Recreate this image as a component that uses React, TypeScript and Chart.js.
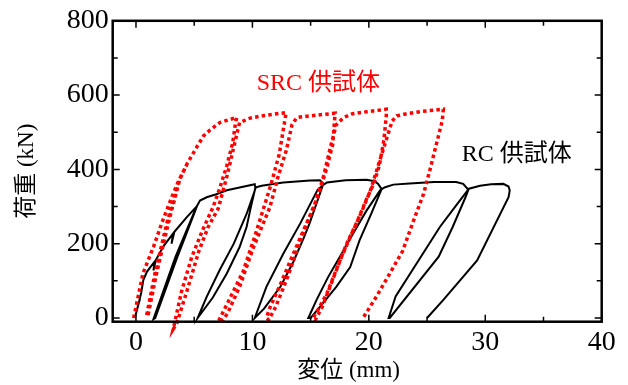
import React, { useEffect, useRef } from "react";
import { Chart, registerables } from "chart.js";

Chart.register(...registerables);

// ---- data ----
const srcDisp = [
  -0.2, 0.6, 1.5, 2.2, 3.07, 3.7, 4.35,
  3.64, 2.64, 1.63, 0.9,
  1.05, 1.8, 2.8, 3.75, 4.4,
  5.2, 5.8, 6.36, 7.2, 8.65,
  8.55, 8.3, 7.8, 7.2, 6.64, 5.7, 4.8, 3.9, 3.2,
  3.5, 4.4, 5.4, 6.2, 7.07, 7.8, 8.4, 8.9,
  9.8, 11.2, 12.9,
  12.8, 12.3, 11.6, 10.9, 10.1, 9.2, 8.1, 7.07,
  7.5, 7.9, 8.9, 10.1, 11.5, 12.2, 12.9, 13.4, 13.8,
  14.1, 15.5, 17.1,
  16.9, 16.4, 15.7, 15.0, 14.1, 13.2, 12.4, 11.5, 11.2,
  11.4, 12.0, 12.9, 13.7, 14.5, 15.3, 16.1, 16.7, 17.2, 17.8,
  18.6, 19.8, 21.5,
  21.5, 21.3, 20.9, 20.4, 19.8, 19.0, 18.1, 17.2, 16.4, 15.6, 15.2,
  15.4, 16.0, 16.8, 17.6, 18.5, 19.3, 20.1, 20.8, 21.5, 22.0, 22.4,
  23.3, 24.5, 26.4,
  26.3, 25.8, 25.3, 24.7, 23.7, 22.9, 21.8, 20.7, 19.5,
];
const srcLoad = [
  0, 120, 191, 254, 325, 372, 412,
  368, 254, 120, 5,
  10, 125, 258, 372, 416,
  459, 490, 506, 526, 540,
  525, 470, 410, 350, 300, 235, 165, 70, -30,
  -15, 75, 180, 245, 295, 380, 460, 526,
  538, 546, 553,
  535, 440, 360, 289, 210, 125, 55, -10,
  -5, 15, 84, 191, 298, 380, 450, 520, 539,
  541, 546, 551,
  468, 405, 334, 280, 215, 150, 90, 28, 0,
  -5, 30, 100, 170, 240, 300, 380, 460, 520, 539,
  550, 555, 562,
  545, 480, 410, 360, 320, 260, 200, 130, 66, 20, 0,
  -5, 30, 95, 160, 225, 280, 340, 410, 480, 530, 544,
  550, 556, 562,
  530, 468, 405, 334, 250, 180, 120, 60, 0,
];

const rcDisp = [
  -0.1, 0.2, 0.1, 0.35, 0.25, 0.45, 0.63, 0.95, 1.6, 1.5, 1.7, 2.4, 3.2, 3.05, 3.3, 4.35, 5.2,
  3.4, 1.5, 1.65, 3.5, 5.25,
  5.5, 6.07, 6.9, 7.8, 8.4, 10.2,
  10.25, 9.8, 9.5, 8.9, 7.8, 6.6, 5.3,
  6.07, 7.2, 8.4, 9.5, 10.3,
  10.8, 12.65, 14.95, 15.8, 16.1,
  14.9, 14.4, 13.5, 12.4, 11.0, 10.2,
  11.2, 12.65, 14.1, 15.6, 16.0,
  16.4, 18.0, 19.8, 20.5, 20.8, 21.1,
  20.2, 19.2, 18.4, 17.2, 15.8, 15.0,
  14.8, 15.5, 16.5, 17.5, 18.7, 19.8, 21.0, 21.4,
  22.1, 23.5, 25.6, 27.5, 28.1, 28.55,
  28.3, 27.2, 26.0, 21.8,
  21.7, 22.3, 26.1, 27.6, 28.6,
  29.55, 30.5, 31.55, 32.0, 32.1, 32.0,
  29.3, 26.4, 25.0,
];
const rcLoad = [
  0, 35, 25, 52, 42, 68, 102, 125, 152, 128, 156, 195, 228, 200, 232, 271, 300,
  165, -3, 0, 160, 302,
  316, 325, 333, 344, 348, 360,
  350, 289, 245, 191, 120, 55, 0,
  57, 130, 200, 280, 352,
  356, 365, 370, 371, 362,
  254, 215, 150, 84, 25, 0,
  84, 173, 254, 345, 356,
  365, 371, 372, 368, 361, 347,
  280, 209, 137, 84, 30, 0,
  0, 48, 110, 164, 230, 289, 345, 352,
  359, 362, 366, 366, 361, 345,
  325, 245, 165, 0,
  0, 58, 245, 307, 348,
  356, 360, 361, 354, 343, 325,
  155, 49, 0,
];

const seriesNames = ["SRC 供試体", "RC 供試体"];
const xTickValues = [0, 10, 20, 30, 40];
const xMinorValues = [5, 15, 25, 35];
const yTickValues = [0, 200, 400, 600, 800];
const yMinorValues = [100, 300, 500, 700];
const xTitle = "変位 (mm)";
const yTitle = "荷重 (kN)";

// ---- styles / placement ----
const FAMILY = '"Liberation Serif", "Times New Roman", "Noto Sans CJK JP", serif';
const seriesColors = ["#ff0000", "#000000"];
const labelAnchors = [
  { x: 10.37, y: 615 },
  { x: 27.98, y: 423 },
];

const frameTicksPlugin = {
  id: "frameTicks",
  afterDatasetsDraw(chart: any) {
    const { ctx, chartArea: a } = chart;
    const xs = chart.scales.x;
    const ys = chart.scales.y;
    ctx.save();
    ctx.strokeStyle = "#000";
    ctx.lineWidth = 1.5;
    ctx.beginPath();
    [...xTickValues, ...xMinorValues].forEach((v) => {
      const p = xs.getPixelForValue(v);
      const len = xTickValues.includes(v) ? 7 : 5;
      ctx.moveTo(p, a.bottom);
      ctx.lineTo(p, a.bottom - len);
      ctx.moveTo(p, a.top);
      ctx.lineTo(p, a.top + len);
    });
    [...yTickValues, ...yMinorValues].forEach((v) => {
      const p = ys.getPixelForValue(v);
      const len = yTickValues.includes(v) ? 7 : 5;
      ctx.moveTo(a.left, p);
      ctx.lineTo(a.left + len, p);
      ctx.moveTo(a.right, p);
      ctx.lineTo(a.right - len, p);
    });
    ctx.stroke();
    ctx.lineWidth = 2.5;
    ctx.strokeRect(a.left, a.top, a.right - a.left, a.bottom - a.top);

    ctx.font = `24px ${FAMILY}`;
    ctx.textAlign = "left";
    ctx.textBaseline = "alphabetic";
    seriesNames.forEach((t, i) => {
      ctx.fillStyle = seriesColors[i];
      ctx.fillText(
        t,
        xs.getPixelForValue(labelAnchors[i].x),
        ys.getPixelForValue(labelAnchors[i].y)
      );
    });
    ctx.restore();
  },
};

export default function App() {
  const ref = useRef<HTMLCanvasElement>(null);

  useEffect(() => {
    document.body.style.margin = "0";
    const canvas = ref.current;
    if (!canvas) return;
    const toPts = (xs: number[], ys: number[]) => xs.map((x, i) => ({ x, y: ys[i] }));

    const chart = new Chart(canvas, {
      type: "scatter",
      data: {
        datasets: [
          {
            label: seriesNames[0],
            data: toPts(srcDisp, srcLoad),
            showLine: true,
            borderColor: seriesColors[0],
            backgroundColor: seriesColors[0],
            borderWidth: 3.5,
            borderDash: [3.5, 3.2],
            pointRadius: 0,
            tension: 0,
            clip: false,
          } as any,
          {
            label: seriesNames[1],
            data: toPts(rcDisp, rcLoad),
            showLine: true,
            borderColor: seriesColors[1],
            backgroundColor: seriesColors[1],
            borderWidth: 2,
            pointRadius: 0,
            tension: 0,
            clip: false,
          } as any,
        ],
      },
      options: {
        responsive: false,
        animation: false,
        devicePixelRatio: 1,
        layout: { padding: { top: 19.3, right: 26.3, left: 0, bottom: 0 } },
        plugins: {
          legend: { display: false },
          tooltip: { enabled: false },
        },
        scales: {
          x: {
            type: "linear",
            min: -2,
            max: 40,
            afterBuildTicks: (s: any) => {
              s.ticks = xTickValues.map((v) => ({ value: v }));
            },
            afterFit: (s: any) => {
              s.height = 63.3;
            },
            grid: { display: false, drawTicks: false },
            border: { display: false },
            ticks: {
              padding: 4,
              color: "#000",
              maxRotation: 0,
              autoSkip: false,
              font: { size: 28, family: FAMILY },
            },
            title: {
              display: true,
              text: xTitle + "   ",
              color: "#000",
              font: { size: 23, family: FAMILY },
              padding: { top: 0, bottom: 0 },
            },
          },
          y: {
            type: "linear",
            min: -10,
            max: 800,
            afterBuildTicks: (s: any) => {
              s.ticks = yTickValues.map((v) => ({ value: v }));
            },
            afterFit: (s: any) => {
              s.width = 112.7;
            },
            grid: { display: false, drawTicks: false },
            border: { display: false },
            ticks: {
              padding: 4,
              color: "#000",
              autoSkip: false,
              font: { size: 28, family: FAMILY },
            },
            title: {
              display: true,
              text: yTitle,
              color: "#000",
              font: { size: 23, family: FAMILY },
              padding: { top: 13, bottom: 0 },
            },
          },
        },
      } as any,
      plugins: [frameTicksPlugin],
    });

    return () => chart.destroy();
  }, []);

  return (
    <div style={{ width: 628, height: 385 }}>
      <canvas ref={ref} width={628} height={385} />
    </div>
  );
}
